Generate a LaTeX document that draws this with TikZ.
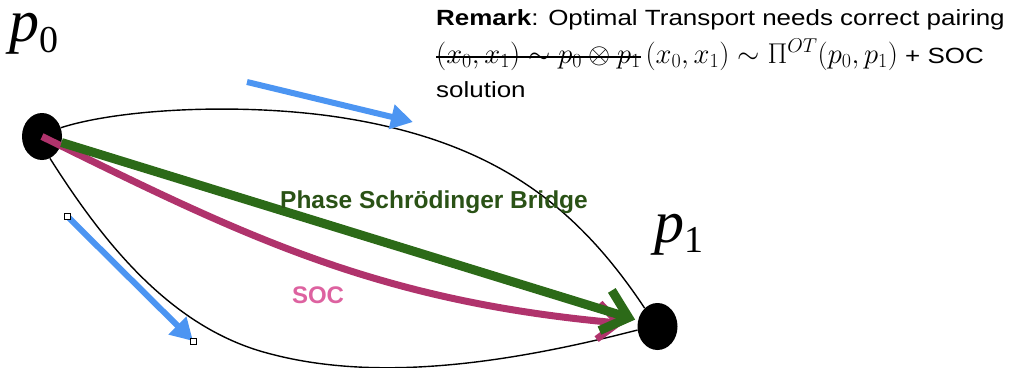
\RequirePackage{fix-cm}
\documentclass[tikz,border=0pt]{standalone}
\usepackage{fontspec}
\setmainfont{Liberation Sans}
\newfontfamily\rmkfont[FakeStretch=1.18]{Liberation Sans}
\newfontfamily\tnr{Liberation Serif}
\usetikzlibrary{arrows.meta,shapes.geometric}
\definecolor{pgreen}{HTML}{2C6A18}
\definecolor{plabgreen}{HTML}{2A5216}
\definecolor{pmag}{HTML}{B0336C}
\definecolor{psoc}{HTML}{DD62A0}
\definecolor{pblue}{HTML}{4C95F2}
\newcommand{\xstrike}[1]{\setbox0=\hbox{#1}\rlap{\rule[5.5pt]{\wd0}{1.3pt}}\box0}
\begin{document}
\begin{tikzpicture}[x=1pt,y=-1pt,
  blob/.style={ellipse,fill=black,minimum width=40pt,minimum height=47pt,inner sep=0pt},
  arcline/.style={line width=1.4pt,black},
  bluearrow/.style={line width=6pt,color=pblue,-{Triangle[length=22pt,width=24pt]}},
  greenarrow/.style={line width=9pt,color=pgreen,shorten >=3pt,-{Straight Barb[length=24pt,width=42pt]}},
  magarrow/.style={line width=7pt,color=pmag,shorten >=14pt,-{Straight Barb[length=20pt,width=36pt]}},
  handle/.style={draw=black,fill=white,line width=0.6pt,minimum size=6pt,inner sep=0pt},
  txt/.style={inner sep=0pt,anchor=base west}]
\useasboundingbox (0,0) rectangle (1009,367);
% endpoints
\node[blob] (p0) at (42,136.5) {};
\node[blob] (p1) at (657.5,326.5) {};
% labels of endpoints
\node[txt] (lp0) at (9,41) {\tnr\fontsize{60}{60}\selectfont\itshape p\upshape\raisebox{-11pt}{\fontsize{38}{38}\selectfont 0}};
\node[txt] (lp1) at (654,242) {\tnr\fontsize{60}{60}\selectfont\itshape p\upshape\raisebox{-10pt}{\fontsize{38}{38}\selectfont 1}};
% black arcs
\coordinate (um) at (350,119);
\coordinate (lm) at (267,353);
\draw[arcline] (p0.25) .. controls (122,108) and (250,102) .. (um)
  .. controls (498,144) and (578,208) .. (p1.125);
\draw[arcline] (p0.-70) .. controls (103,242) and (170,327) .. (lm)
  .. controls (373,382) and (502,365) .. (p1.190);
% blue arrows
\coordinate (b1s) at (247,82);
\coordinate (b1e) at (413,122);
\coordinate (b2s) at (67,216);
\coordinate (b2e) at (193,341);
\draw[bluearrow] (b1s) -- (b1e);
\draw[bluearrow] (b2s) -- (b2e);
\node[handle] (h1) at (b2s) {};
\node[handle] (h2) at (b2e) {};
% SOC curve and green bridge
\draw[magarrow] (p0.center) .. controls (242,235) and (375,301) .. (p1);
\draw[greenarrow] (p0) -- (p1);
% labels
\node[font=\bfseries\fontsize{24.5}{28}\selectfont,text=plabgreen,inner sep=0pt] (lsb) at (434,202) {Phase Schrödinger Bridge};
\node[font=\bfseries\fontsize{24}{28}\selectfont,text=psoc,inner sep=0pt] (lsoc) at (318,295) {SOC};
% remark
\node[txt] (r1) at (436,25) {\rmkfont\fontsize{22}{26}\selectfont\textbf{Remark}: Optimal Transport needs correct pairing};
\node[txt] (r2) at (436,63) {\fontsize{28.6}{32}\selectfont\xstrike{$(x_0,x_1)\sim p_0\otimes p_1$}\,$(x_0,x_1)\sim\Pi^{OT}(p_0,p_1)$\rmkfont\fontsize{22}{26}\selectfont{} + SOC};
\node[txt] (r3) at (436,97) {\rmkfont\fontsize{22}{26}\selectfont solution};
\end{tikzpicture}
\end{document}
